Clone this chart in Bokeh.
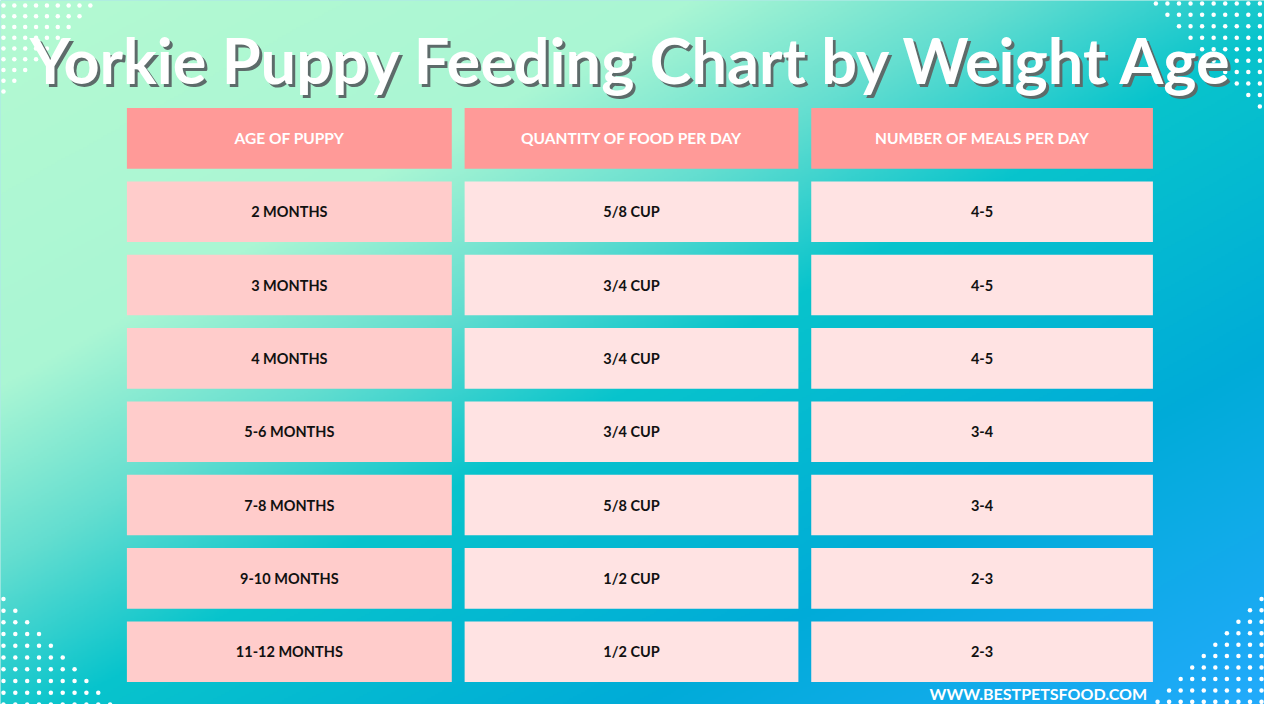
import numpy as np
from bokeh.plotting import figure
from bokeh.models import Range1d
from bokeh.core.properties import value
from bokeh.embed import file_html
from bokeh.resources import INLINE

# ---- data ----
title = "Yorkie Puppy Feeding Chart by Weight Age"
headers = ["AGE OF PUPPY", "QUANTITY OF FOOD PER DAY", "NUMBER OF MEALS PER DAY"]
ages = ["2 MONTHS", "3 MONTHS", "4 MONTHS", "5-6 MONTHS", "7-8 MONTHS", "9-10 MONTHS", "11-12 MONTHS"]
quantity = ["5/8 CUP", "3/4 CUP", "3/4 CUP", "3/4 CUP", "5/8 CUP", "1/2 CUP", "1/2 CUP"]
meals = ["4-5", "4-5", "4-5", "3-4", "3-4", "2-3", "2-3"]
footer = "WWW.BESTPETSFOOD.COM"

# ---- layout (reference pixel space, y measured from top) ----
W, H = 1280, 720
col_left = [128, 470, 821]
col_right = [457, 808, 1167]
head_top, head_bot = 110, 172
row_top0, row_pitch, row_h = 185, 75, 62

def Y(yref):
    return H - yref

p = figure(width=1264, height=704, output_backend="svg", toolbar_location=None,
           x_range=Range1d(0, W), y_range=Range1d(0, H), min_border=0,
           outline_line_color=None)
p.axis.visible = False
p.grid.visible = False
p.background_fill_color = "#5fd6cc"
p.border_fill_color = "#5fd6cc"

# ---- background gradient ----
gw, gh = 640, 360
gx = (np.arange(gw) + 0.5) / gw * W
gy_ref = H - (np.arange(gh) + 0.5) / gh * H  # row 0 at bottom
XX, YY = np.meshgrid(gx, gy_ref)
t = XX / W + YY / H
stops_t = [0.0, 0.55, 0.8, 1.05, 1.5, 2.0]
stops_c = [(180, 250, 210), (170, 246, 212), (100, 222, 208), (8, 196, 204), (0, 172, 216), (35, 170, 252)]
img = np.zeros((gh, gw), dtype=np.uint32)
view = img.view(dtype=np.uint8).reshape((gh, gw, 4))
for ch in range(3):
    view[:, :, ch] = np.interp(t, stops_t, [c[ch] for c in stops_c]).astype(np.uint8)
view[:, :, 3] = 255
p.image_rgba(image=[img], x=0, y=0, dw=W, dh=H)

# ---- decorative dots ----
dx, dy = [], []
for i in range(9):  # top-left
    for j in range(9 - i):
        dx.append(3 + 11 * j); dy.append(Y(5 + 11 * i))
for i in range(10):  # top-right
    xs = 1170 + 11.7 * i
    while xs < 1282:
        dx.append(xs); dy.append(Y(3 + 11.7 * i)); xs += 11.7
for k in range(10):  # bottom-left
    for j in range(k + 1):
        dx.append(3 + 12 * j); dy.append(Y(612 + 12 * k))
for k in range(10):  # bottom-right
    for j in range(k + 1):
        dx.append(1277 - 11.7 * j); dy.append(Y(612 + 11.7 * k))
p.scatter(dx, dy, size=4.5, color="white", line_color=None)

# ---- title ----
p.text([W / 2 + 3], [Y(60) - 3], text=[title], text_align="center", text_baseline="middle",
       text_font=value("Lato"), text_font_style="bold", text_font_size="63px", text_color="#5d6b6a")
p.text([W / 2], [Y(60)], text=[title], text_align="center", text_baseline="middle",
       text_font=value("Lato"), text_font_style="bold", text_font_size="63px", text_color="white")

# ---- header ----
p.quad(left=col_left, right=col_right, top=[Y(head_top)] * 3, bottom=[Y(head_bot)] * 3,
       fill_color="#ff9a98", line_color=None)
cx = [(l + r) / 2 for l, r in zip(col_left, col_right)]
p.text(cx, [Y((head_top + head_bot) / 2)] * 3, text=headers, text_align="center",
       text_baseline="middle", text_font=value("Lato"), text_font_style="bold",
       text_font_size="15.5px", text_color="white")

# ---- body ----
n = len(ages)
tops = [Y(row_top0 + i * row_pitch) for i in range(n)]
bots = [Y(row_top0 + i * row_pitch + row_h) for i in range(n)]
mids = [Y(row_top0 + i * row_pitch + row_h / 2) for i in range(n)]
fills = ["#ffcccb", "#ffe3e3", "#ffe3e3"]
for c, col_vals in enumerate([ages, quantity, meals]):
    p.quad(left=[col_left[c]] * n, right=[col_right[c]] * n, top=tops, bottom=bots,
           fill_color=fills[c], line_color=None)
    p.text([cx[c]] * n, mids, text=col_vals, text_align="center", text_baseline="middle",
           text_font=value("Lato"), text_font_style="bold", text_font_size="14.5px",
           text_color="#111111")

# ---- footer ----
p.text([1051], [Y(709)], text=[footer], text_align="center", text_baseline="middle",
       text_font=value("Lato"), text_font_style="bold", text_font_size="16px", text_color="white")

open("out.html", "w").write(file_html(p, INLINE))
